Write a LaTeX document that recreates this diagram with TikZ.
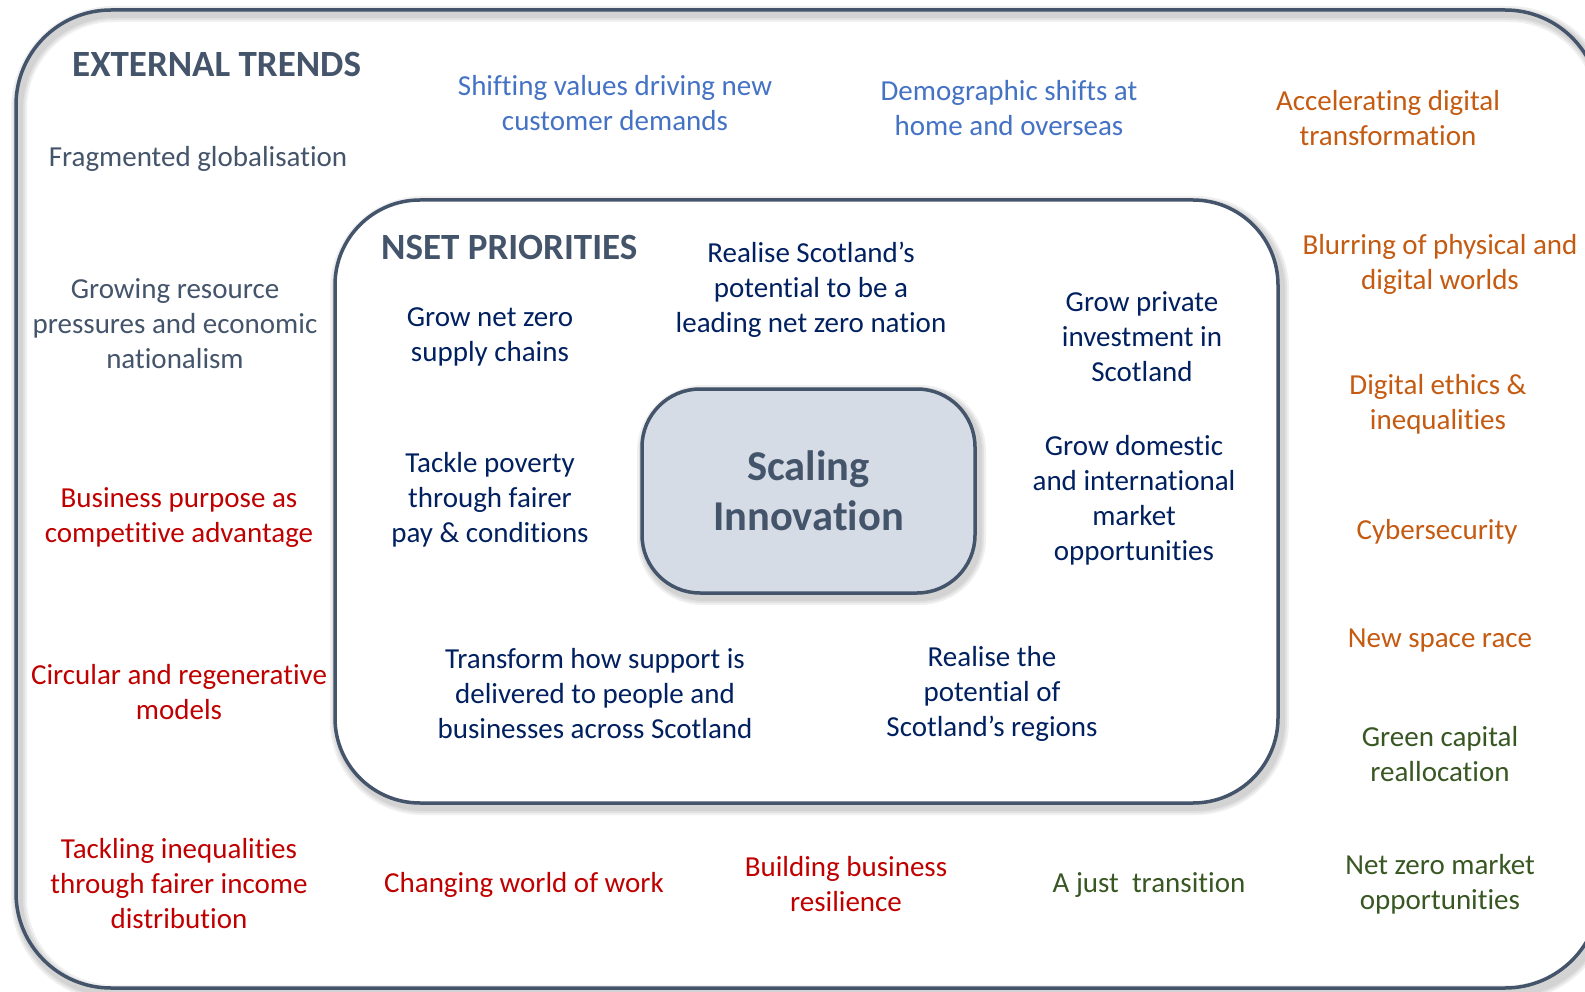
\documentclass[tikz,border=0pt]{standalone}
\usepackage{fontspec}
\setmainfont[Ligatures=NoCommon]{Carlito}
\definecolor{slate}{HTML}{44546A}
\definecolor{tblue}{HTML}{4472C4}
\definecolor{torange}{HTML}{C55A11}
\definecolor{tred}{HTML}{C00000}
\definecolor{tgreen}{HTML}{385723}
\definecolor{navy}{HTML}{002060}
\definecolor{boxfill}{HTML}{D6DCE5}
\tikzset{
  frame/.style={draw=slate, line width=3.5pt},
  shadowline/.style={draw=black, line width=#1, opacity=0.06},
  txt/.style={align=center, inner sep=0pt, yshift=-2pt, font=\fontsize{29}{35}\selectfont},
  head/.style={inner sep=0pt, anchor=west, text=slate, font=\fontsize{37}{42}\selectfont\bfseries},
  ext/.style={txt, text=slate},
  blu/.style={txt, text=tblue},
  org/.style={txt, text=torange},
  rd/.style={txt, text=tred},
  grn/.style={txt, text=tgreen},
  pri/.style={txt, text=navy},
}
\begin{document}
\begin{tikzpicture}[x=1pt,y=-1pt]
\useasboundingbox (0,0) rectangle (1585,992);
\fill[white] (0,0) rectangle (1585,992);
\begin{scope}
\clip (0,0) rectangle (1585,992);
% outer frame shadow
\foreach \w in {16,12,8} {
  \draw[shadowline=\w pt, rounded corners=95pt] (19,14) rectangle (1604,993);
}
\draw[frame, rounded corners=95pt] (16,10) rectangle (1600,988);
% inner frame shadow
\foreach \w in {16,12,8} {
  \draw[shadowline=\w pt, rounded corners=85pt] (338,204) rectangle (1281,807);
}
\draw[frame, fill=white, rounded corners=85pt] (335,200) rectangle (1278,803);
\end{scope}
% central box
\foreach \w in {16,12,8} {
  \draw[shadowline=\w pt, rounded corners=58pt] (645,393) rectangle (978,597);
}
\node[draw=slate, line width=3.5pt, fill=boxfill, rounded corners=58pt, minimum width=333pt, minimum height=204pt, text=slate, align=center, font=\fontsize{42.5}{50}\selectfont\bfseries] (core) at (808.5,491) {Scaling\\Innovation};

% headings
\node[head] (exthead) at (72,64) {EXTERNAL TRENDS};
\node[head] (nsethead) at (381,247) {NSET PRIORITIES};

% external trends
\node[ext] (frag) at (198,157) {Fragmented globalisation};
\node[ext] (grow) at (175,322) {Growing resource\\pressures and economic\\nationalism};
\node[blu] (shift) at (615,101) {Shifting values driving new\\customer demands};
\node[blu] (demo) at (1009,106) {Demographic shifts at\\home and overseas};
\node[org] (accel) at (1388,116) {Accelerating digital\\transformation};
\node[org] (blur) at (1440,262) {Blurring of physical and\\digital worlds};
\node[org] (ethics) at (1438,402) {Digital ethics \&\\inequalities};
\node[org] (cyber) at (1437,530) {Cybersecurity};
\node[org] (space) at (1440,639) {New space race};
\node[grn] (greencap) at (1440,752) {Green capital\\reallocation};
\node[grn] (nzmarket) at (1440,882) {Net zero market\\opportunities};
\node[grn] (just) at (1149,883) {A just\ \ transition};
\node[rd] (resil) at (846,882) {Building business\\resilience};
\node[rd] (work) at (524,883) {Changing world of work};
\node[rd] (ineq) at (179,882) {Tackling inequalities\\through fairer income\\distribution};
\node[rd] (circ) at (179,690) {Circular and regenerative\\models};
\node[rd] (purpose) at (179,516) {Business purpose as\\competitive advantage};

% priorities
\node[pri] (supply) at (490,335) {Grow net zero\\supply chains};
\node[pri] (nation) at (811,288) {Realise Scotland’s\\potential to be a\\leading net zero nation};
\node[pri] (invest) at (1142,335) {Grow private\\investment in\\Scotland};
\node[pri] (poverty) at (490,498) {Tackle poverty\\through fairer\\pay \& conditions};
\node[pri] (market) at (1134,498) {Grow domestic\\and international\\market\\opportunities};
\node[pri] (support) at (595,692) {Transform how support is\\delivered to people and\\businesses across Scotland};
\node[pri] (regions) at (992,692) {Realise the\\potential of\\Scotland’s regions};
\end{tikzpicture}
\end{document}
